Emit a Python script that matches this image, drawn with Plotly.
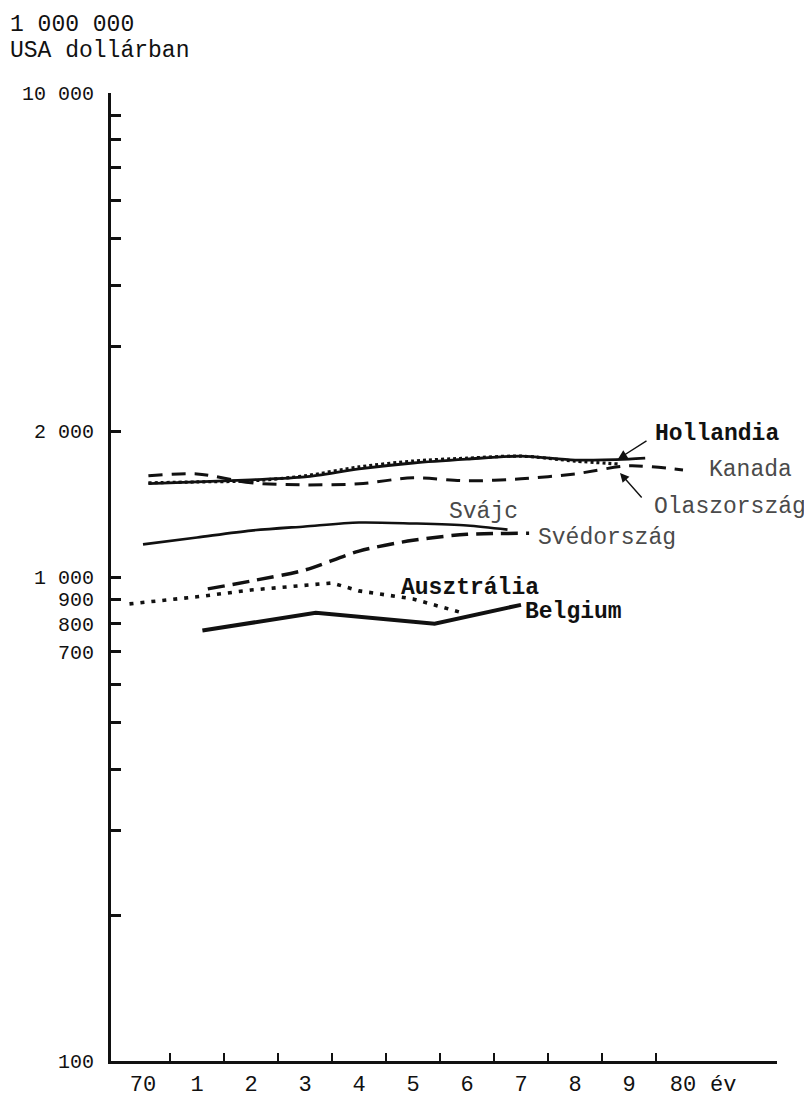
import math
import plotly.graph_objects as go

# ---------------- data (values in 1 000 000 USD, log scale) ----------------
years_hollandia = [70.1, 71, 72, 73, 74, 75, 76, 77, 78, 79, 79.3]
hollandia = [1560, 1572, 1588, 1610, 1672, 1720, 1752, 1777, 1744, 1752, 1760]

years_olasz = [70.1, 71, 72, 73, 74, 75, 76, 77, 78, 78.8]
olaszorszag = [1565, 1572, 1580, 1618, 1688, 1736, 1760, 1777, 1736, 1712]

years_kanada = [70.1, 71, 72, 73, 74, 75, 76, 77, 78, 79, 80]
kanada = [1618, 1633, 1565, 1550, 1558, 1603, 1580, 1595, 1633, 1697, 1664]

years_svajc = [70, 71, 72, 73, 74, 75, 76, 76.75]
svajc = [1168, 1207, 1247, 1272, 1296, 1290, 1278, 1253]

years_sved = [71.2, 72, 73, 74, 75, 76, 77.15]
svedorszag = [945, 981, 1034, 1131, 1191, 1225, 1231]

years_ausztr = [69.75, 71, 72, 73, 73.5, 74, 75, 75.9]
ausztralia = [880, 910, 940, 963, 972, 936, 901, 844]

years_belg = [71.1, 73.2, 75.4, 77]
belgium = [775, 844, 801, 876]

x_tickvals = [70, 71, 72, 73, 74, 75, 76, 77, 78, 79, 80]
x_ticktext = ["70", "1", "2", "3", "4", "5", "6", "7", "8", "9", "80"]
x_minor = [70.5, 71.5, 72.5, 73.5, 74.5, 75.5, 76.5, 77.5, 78.5, 79.5]

y_tickvals = [100, 700, 800, 900, 1000, 2000, 10000]
y_ticktext = ["100", "700", "800", "900", "1 000", "2 000", "10 000"]
y_minor = [200, 300, 400, 500, 600, 3000, 4000, 5000, 6000, 7000, 8000, 9000]

# ---------------- layout geometry ----------------
# the page body has an 8px default margin, so the figure is drawn 8px in
OFF = 8
W, H = 812 - OFF, 1101 - OFF
PLOT_X0, PLOT_X1 = 111, 777      # plot area in page pixels
PLOT_Y0, PLOT_Y1 = 93, 1061
L = PLOT_X0 - OFF
R = W - (PLOT_X1 - OFF)
T = PLOT_Y0 - OFF
B = H - (PLOT_Y1 - OFF)
PW = PLOT_X1 - PLOT_X0
PH = PLOT_Y1 - PLOT_Y0

def px_x(px):
    return (px - PLOT_X0) / PW

def py_y(py):
    return (PLOT_Y1 - py) / PH

FONT = "Liberation Mono"
BLACK = "#111111"
GRAY = "#4a4a4a"

fig = go.Figure()

def add_line(x, y, width, dash, shape="linear"):
    fig.add_trace(go.Scatter(
        x=x, y=y, mode="lines",
        line=dict(color=BLACK, width=width, dash=dash, shape=shape, smoothing=0.8),
        showlegend=False, hoverinfo="skip"))

add_line(years_kanada, kanada, 3, "14px,9px", "spline")
add_line(years_olasz, olaszorszag, 3.2, "3px,3px", "spline")
add_line(years_hollandia, hollandia, 2.8, "solid", "spline")
add_line(years_svajc, svajc, 2.6, "solid", "spline")
add_line(years_sved, svedorszag, 3.5, "17px,8px", "spline")
add_line(years_ausztr, ausztralia, 3.6, "4px,7px", "linear")
add_line(years_belg, belgium, 4, "solid", "linear")

annotations = []

def label(text, px, py, anchor="left", bold=False, color=BLACK, size=23):
    annotations.append(dict(
        text=("<b>%s</b>" % text) if bold else text,
        xref="paper", yref="paper", x=px_x(px), y=py_y(py),
        xanchor=anchor, yanchor="middle", showarrow=False,
        font=dict(family=FONT, size=size, color=color)))

def arrow(head_px, head_py, tail_px, tail_py):
    annotations.append(dict(
        text="", xref="paper", yref="paper",
        x=px_x(head_px), y=py_y(head_py),
        ax=tail_px - head_px, ay=tail_py - head_py,
        showarrow=True, arrowhead=2, arrowsize=1.3, arrowwidth=1.4,
        arrowcolor=BLACK, standoff=0, startstandoff=0))

label("1 000 000", 8, 25)
label("USA dollárban", 8, 51)
label("Hollandia", 653, 434, bold=True)
label("Kanada", 707, 470, color=GRAY)
label("Olaszország", 652, 507, color=GRAY)
label("Svájc", 447, 512, color=GRAY)
label("Svédország", 536, 538, color=GRAY)
label("Ausztrália", 399, 588, bold=True)
label("Belgium", 523, 612, bold=True)
label("év", 723, 1085, anchor="center", size=22)

arrow(618, 459, 648, 440)
arrow(620, 473, 643, 499)

fig.update_layout(
    width=W, height=H,
    margin=dict(l=L, r=R, t=T, b=B, autoexpand=False),
    paper_bgcolor="white", plot_bgcolor="white",
    annotations=annotations,
    xaxis=dict(
        range=[70 - (143 - PLOT_X0) / 54, 70 + (PLOT_X1 - 143) / 54],
        automargin=False,
        tickmode="array", tickvals=x_tickvals, ticktext=x_ticktext,
        ticks="", showgrid=False, zeroline=False,
        showline=True, linecolor=BLACK, linewidth=3,
        ticklabelstandoff=1,
        tickfont=dict(family=FONT, size=22, color=BLACK),
        minor=dict(tickmode="array", tickvals=x_minor, ticks="inside",
                   ticklen=8, tickwidth=2, tickcolor=BLACK, showgrid=False),
    ),
    yaxis=dict(
        type="log", range=[2, 4],
        automargin=False,
        tickmode="array", tickvals=y_tickvals, ticktext=y_ticktext,
        ticks="inside", ticklen=10, tickwidth=2.5, tickcolor=BLACK,
        showgrid=False, zeroline=False,
        showline=True, linecolor=BLACK, linewidth=3,
        ticklabelstandoff=10,
        tickfont=dict(family=FONT, size=20, color=BLACK),
        minor=dict(tickmode="array", tickvals=y_minor, ticks="inside",
                   ticklen=10, tickwidth=2.5, tickcolor=BLACK, showgrid=False),
    ),
)

fig.write_html("out.html")
